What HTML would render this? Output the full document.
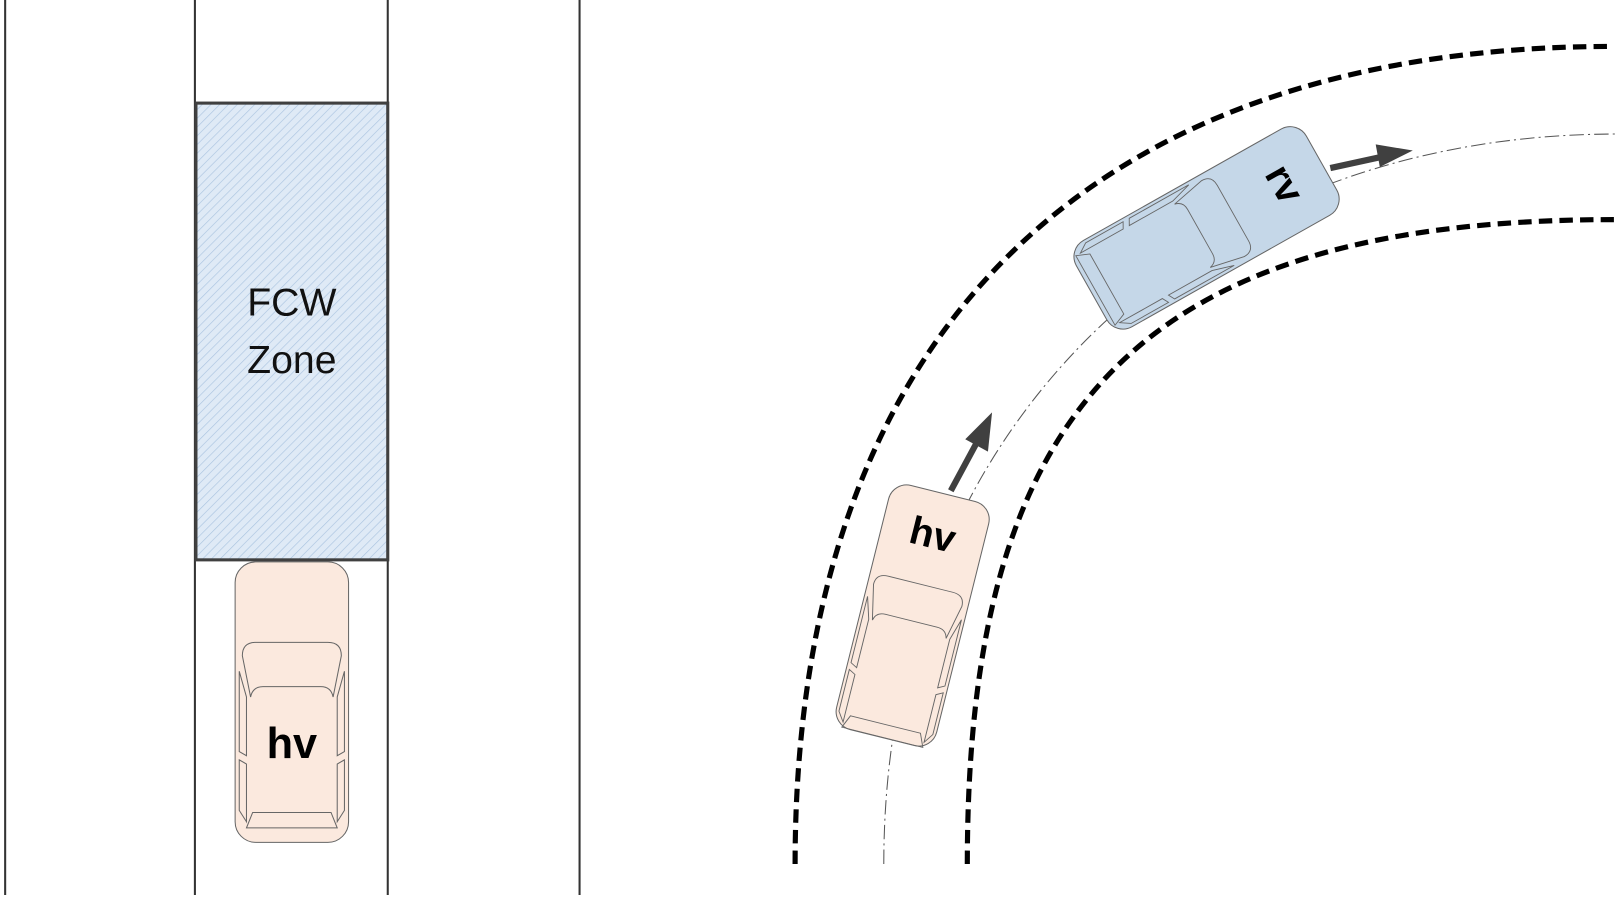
<!DOCTYPE html>
<html><head><meta charset="utf-8"><style>
html,body{margin:0;padding:0;background:#fff}
svg{display:block}
text{font-family:"Liberation Sans",sans-serif}
</style></head><body>
<svg width="1617" height="897" viewBox="0 0 1568 870" preserveAspectRatio="none">
<defs>
<pattern id="hatch" width="6" height="6" patternUnits="userSpaceOnUse" patternTransform="rotate(45)">
<rect width="6" height="6" fill="#dfeaf6"/><line x1="0" y1="0" x2="0" y2="6" stroke="#a9c3df" stroke-width="1.2"/>
</pattern>
<g id="cardetail" fill="none" stroke="#666" stroke-width="1">
<path d="M-40,-5 L-48,-45 Q-48,-58 -35,-58 L35,-58 Q48,-58 48,-45 L40,-5 Q38,-15 28,-15 L-28,-15 Q-38,-15 -40,-5Z"/>
<path d="M-51,-30 L-44,-5 L-44,52 L-51,48Z"/>
<path d="M51,-30 L44,-5 L44,52 L51,48Z"/>
<path d="M-51,56 L-44,60 L-44,116 L-51,105Z"/>
<path d="M51,56 L44,60 L44,116 L51,105Z"/>
<path d="M-38,107 L38,107 L44,122 L-44,122Z"/>
</g>
</defs>

<g stroke="#333" stroke-width="2">
<line x1="5" y1="0" x2="5" y2="868"/>
<line x1="189" y1="0" x2="189" y2="868"/>
<line x1="376" y1="0" x2="376" y2="868"/>
<line x1="562" y1="0" x2="562" y2="868"/>
</g>
<g>
<rect x="190" y="100" width="186" height="443" fill="url(#hatch)" stroke="#404040" stroke-width="3"/>
<text x="283" y="306" font-size="38" text-anchor="middle" fill="#111">FCW</text>
<text x="283" y="362" font-size="38" text-anchor="middle" fill="#111">Zone</text>
</g>
<g transform="translate(283,681)">
<rect x="-55" y="-136" width="110" height="272" rx="20" fill="#fbe9de" stroke="#666" stroke-width="1"/>
<use href="#cardetail"/>
<text x="0" y="54" font-size="42" font-weight="bold" text-anchor="middle" fill="#000">hv</text>
</g>

<g fill="none" stroke="#000" stroke-width="5" stroke-dasharray="13,7">
<path d="M771,838 C771,330 1050,45 1565,45"/>
<path d="M938,838 C938,400 1100,213 1565,213"/>
</g>
<path d="M857,838 C857,420 1150,130 1568,130" fill="none" stroke="#555" stroke-width="1" stroke-dasharray="14,4,2,4"/>

<g transform="translate(885,597) rotate(14)">
<rect x="-50" y="-122" width="100" height="244" rx="18" fill="#fbe9de" stroke="#666" stroke-width="1"/>
<g transform="translate(0,18) scale(0.92,0.85)"><use href="#cardetail"/></g>
<text x="0" y="-68" font-size="38" font-weight="bold" text-anchor="middle" fill="#000">hv</text>
</g>
<g transform="translate(1170,221) rotate(60.6)">
<rect x="-48" y="-128" width="96" height="256" rx="18" fill="#c5d7e8" stroke="#666" stroke-width="1"/>
<g transform="translate(0,20) scale(0.88,0.85)"><use href="#cardetail"/></g>
<text x="0" y="-74" font-size="38" font-weight="bold" text-anchor="middle" fill="#000">rv</text>
</g>

<g stroke="#404040" stroke-width="6" fill="#404040">
<line x1="922" y1="476" x2="950" y2="424"/>
<polygon points="962,400 958,438 936,426" stroke="none"/>
<line x1="1290" y1="163" x2="1345" y2="151"/>
<polygon points="1370,146 1338,162 1334,140" stroke="none"/>
</g>
</svg>
</body></html>
